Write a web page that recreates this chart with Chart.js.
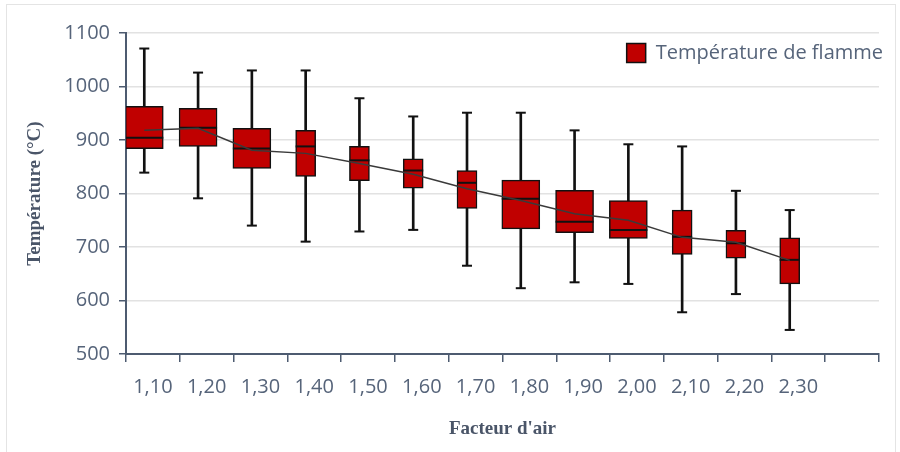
<!DOCTYPE html>
<html><head><meta charset="utf-8">
<script src="https://cdn.jsdelivr.net/npm/chart.js@4.4.0/dist/chart.umd.min.js"></script>
<style>
html,body{margin:0;padding:0;background:#fff;}
#wrap{position:relative;width:900px;height:452px;overflow:hidden;}
#frame{position:absolute;left:6px;top:4px;width:888px;height:470px;border:1.5px solid #e4e4e4;}
canvas{position:absolute;left:0;top:0;}
</style></head><body>
<div id="wrap"><div id="frame"></div><canvas id="c" width="900" height="452"></canvas></div>
<script>
// Categories (air factor); the last slot is empty in the original chart
const categories = ['1,10','1,20','1,30','1,40','1,50','1,60','1,70','1,80','1,90','2,00','2,10','2,20','2,30',''];
// Box plot statistics of flame temperature (°C)
const whiskerMax = [1071,1026,1030,1030,978,944,951,951,918,892,888,805,769];
const q3         = [ 963, 959, 922, 918,888,865,843,825,806,787,769,731,717];
const median     = [ 904, 923, 884, 888,862,843,820,790,747,732,719,707,676];
const q1         = [ 884, 888, 847, 832,824,810,772,734,727,716,686,679,631];
const whiskerMin = [ 839, 791, 740, 710,729,732,665,623,634,631,578,612,545];
const mean       = [ 918, 922, 881, 875,856,836,809,787,762,750,718,709,675];
// which boxes are drawn wide in the original
const wideBox    = [true,true,true,false,false,false,false,true,true,true,false,false,false];

const SHIFT = -0.16;      // boxes sit slightly left of the category centre
const WIDE = 38, NARROW = 20;
const RED = '#c00000', INK = '#111111', AXIS = '#4d5b70', TXT = '#56647a';

const pos = i => i + SHIFT;
const boxWide   = q1.map((v,i) => wideBox[i] ? {x: pos(i), y: [v, q3[i]]} : null).filter(Boolean);
const boxNarrow = q1.map((v,i) => !wideBox[i] ? {x: pos(i), y: [v, q3[i]]} : null).filter(Boolean);
const whisk = whiskerMin.map((v,i) => ({x: pos(i), y: [v, whiskerMax[i]]}));
const capMax = whiskerMax.map((v,i) => ({x: pos(i), y: v}));
const capMin = whiskerMin.map((v,i) => ({x: pos(i), y: v}));
const med = median.map((v,i) => ({x: pos(i), y: v}));
const meanPts = mean.map((v,i) => ({x: pos(i), y: v}));

// legend sits inside the plot area (top right) without taking layout space
const legendInside = {
  id: 'legendInside',
  beforeLayout(chart) {
    const lg = chart.legend;
    if (lg && !lg._patched) {
      const fit = lg.fit, draw = lg.draw;
      lg.fit = function() { fit.call(this); this._realH = this.height; this.height = 0; };
      lg.draw = function() {
        const b = this.bottom;
        this.bottom = this.top + (this._realH || 0);
        draw.call(this);
        this.bottom = b;
      };
      lg._patched = true;
    }
  }
};

new Chart(document.getElementById('c'), {
  type: 'bar',
  data: {
    labels: categories,
    datasets: [
      {label: 'Température de flamme', data: boxWide, xAxisID: 'xm', backgroundColor: RED, borderColor: INK,
       borderWidth: 1.5, borderSkipped: false, barThickness: WIDE, grouped: false, order: 4},
      {label: 'narrow', data: boxNarrow, xAxisID: 'xm', backgroundColor: RED, borderColor: INK,
       borderWidth: 1.5, borderSkipped: false, barThickness: NARROW, grouped: false, order: 4},
      {label: 'whisker', data: whisk, xAxisID: 'xm', backgroundColor: INK, borderWidth: 0,
       barThickness: 2, grouped: false, order: 6},
      {type: 'scatter', label: 'max', data: capMax, xAxisID: 'xm', pointStyle: 'line', pointRadius: 5,
       borderColor: INK, borderWidth: 2, order: 3},
      {type: 'scatter', label: 'min', data: capMin, xAxisID: 'xm', pointStyle: 'line', pointRadius: 5,
       borderColor: INK, borderWidth: 2, order: 3},
      {type: 'scatter', label: 'median', data: med, xAxisID: 'xm', pointStyle: 'line',
       pointRadius: c => (wideBox[c.dataIndex] ? WIDE : NARROW) / 2, borderColor: INK, borderWidth: 2, order: 2},
      {type: 'line', label: 'mean', data: meanPts, xAxisID: 'xm', borderColor: '#3a3a3a', borderWidth: 1.5,
       pointRadius: 0, tension: 0, fill: false, order: 1}
    ]
  },
  plugins: [legendInside],
  options: {
    responsive: false, animation: false, events: [],
    layout: {padding: {top: 33, right: 7, left: 0, bottom: 0}},
    plugins: {
      tooltip: {enabled: false},
      legend: {
        position: 'top', align: 'end',
        labels: {
          filter: it => it.datasetIndex === 0,
          boxWidth: 19, boxHeight: 19, padding: 10,
          color: TXT, font: {family: 'Open Sans', size: 20}
        }
      }
    },
    scales: {
      x: {
        type: 'category', offset: true,
        grid: {offset: true, drawOnChartArea: false, drawTicks: true, tickLength: 8, color: AXIS, lineWidth: 1.5},
        border: {color: AXIS, width: 2},
        ticks: {color: TXT, font: {family: 'Open Sans', size: 20}, padding: 13, maxRotation: 0, autoSkip: false},
        title: {display: true, text: "Facteur d'air", color: '#4a5568',
                font: {family: 'Liberation Serif', size: 19, weight: 'bold'}, padding: {top: 0, bottom: 12}},
        afterFit: s => { s.height = 98; }
      },
      xm: {
        type: 'linear', min: -0.5, max: 13.5, offset: false, display: false
      },
      y: {
        min: 500, max: 1100,
        ticks: {stepSize: 100, color: TXT, font: {family: 'Open Sans', size: 20}, padding: 9,
                callback: v => String(v)},
        grid: {color: '#e2e2e2', tickColor: AXIS, tickLength: 7, lineWidth: 1.5},
        border: {color: AXIS, width: 2},
        title: {display: true, text: 'Température (°C)', color: '#4a5568',
                font: {family: 'Liberation Serif', size: 19, weight: 'bold'}, padding: {top: 24, bottom: 0}},
        afterFit: s => { s.width = 126; }
      }
    }
  }
});
</script>
</body></html>
